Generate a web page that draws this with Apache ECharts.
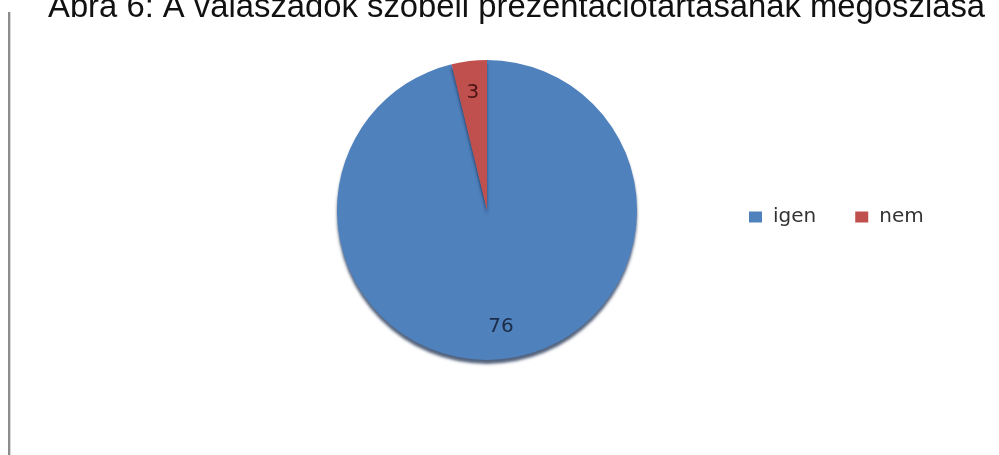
<!DOCTYPE html>
<html>
<head>
<meta charset="utf-8">
<script src="https://cdn.jsdelivr.net/npm/echarts@6/dist/echarts.min.js"></script>
<style>
  html, body { margin: 0; padding: 0; background: #fff; }
  #chart { width: 999px; height: 455px; position: relative; }
  #frame { position: absolute; left: 8px; top: 12px; width: 2px; height: 443px; background: #8c8c8c; border-right: 1px solid #d8d8d8; }
</style>
</head>
<body>
<div id="chart"></div>
<div id="frame"></div>
<script>
  // Answers: "yes" / "no"
  const categories = ['igen', 'nem'];
  const counts = [76, 3];
  const colors = ['#4F81BD', '#C0504D'];
  const labelColors = ['#1c2c48', '#4a1414'];
  const titleText = 'Ábra 6: A válaszadók szóbeli prezentációtartásának megoszlása';

  const pieData = categories.map((name, i) => ({
    name: name,
    value: counts[i],
    itemStyle: { color: colors[i] }
  }));

  const chart = echarts.init(document.getElementById('chart'));
  chart.setOption({
    animation: false,
    title: {
      text: titleText,
      left: 43,
      top: -14,
      textStyle: { fontFamily: 'Liberation Sans', fontSize: 32.8, fontWeight: 'normal', color: '#111' }
    },
    legend: {
      data: categories,
      left: 744,
      top: 202,
      itemWidth: 13,
      itemHeight: 11,
      itemGap: 39,
      icon: 'rect',
      textStyle: { fontFamily: 'DejaVu Sans', fontSize: 20, color: '#333', padding: [0, 0, 0, 6] }
    },
    series: [
      {
        type: 'pie',
        center: [487, 210],
        radius: [0, 150],
        startAngle: 90,
        clockwise: true,
        data: pieData,
        label: { show: false },
        labelLine: { show: false },
        itemStyle: {
          borderWidth: 0,
          shadowColor: 'rgba(25,45,80,0.75)',
          shadowOffsetY: 4,
          shadowBlur: 3
        },
        emphasis: { disabled: true }
      },
      {
        // transparent ring used only to place the value labels near the rim
        type: 'pie',
        center: [487, 210],
        radius: [80, 150],
        startAngle: 90,
        clockwise: true,
        silent: true,
        data: pieData.map((d, i) => ({
          name: d.name,
          value: d.value,
          label: { color: labelColors[i] }
        })),
        itemStyle: { color: 'rgba(0,0,0,0)' },
        label: {
          show: true,
          position: 'inside',
          formatter: '{c}',
          fontFamily: 'DejaVu Sans',
          fontSize: 20
        },
        labelLine: { show: false },
        emphasis: { disabled: true }
      }
    ]
  });
</script>
</body>
</html>
